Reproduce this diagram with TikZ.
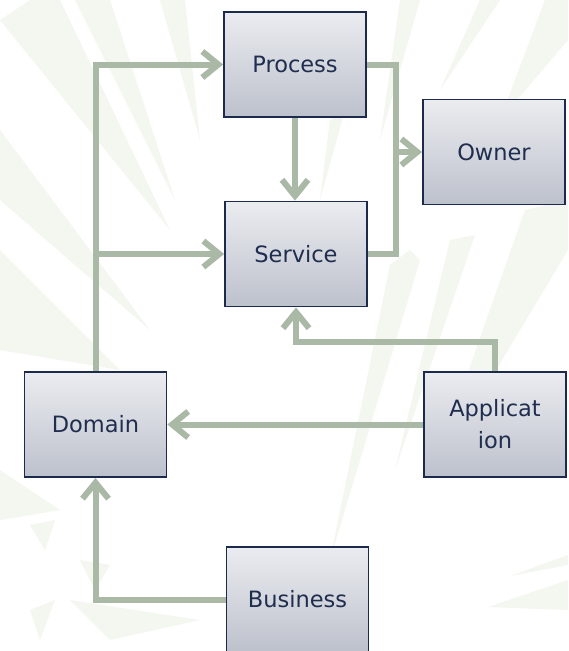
\documentclass[tikz,border=0pt]{standalone}
\usepackage{fontspec}
\setmainfont{DejaVu Sans}
\usetikzlibrary{arrows.meta,positioning}
\definecolor{boxtop}{HTML}{EBECF0}
\definecolor{boxbot}{HTML}{BDC1CC}
\definecolor{boxline}{HTML}{1C2A4D}
\definecolor{txt}{HTML}{1F2D4F}
\definecolor{conn}{HTML}{AAB8A6}
\definecolor{ray}{HTML}{F3F7F0}
\tikzset{
  entity/.style={rectangle, draw=boxline, line width=1.8pt, top color=boxtop, bottom color=boxbot,
    minimum width=142pt, minimum height=105pt, inner sep=0pt, text=txt, align=center,
    font=\fontsize{22.5}{32}\selectfont},
  link/.style={draw=conn, line width=6pt},
  arr/.style={link, -{Straight Barb[length=16pt,width=26pt,line width=6pt]}},
  raystyle/.style={fill=ray, draw=none}
}
\begin{document}
\begin{tikzpicture}[x=1pt,y=-1pt]
\useasboundingbox (0,0) rectangle (568,651);
\fill[white] (0,0) rectangle (568,651);
% faint background rays
\fill[raystyle] (0,20) -- (30,0) -- (60,0) -- (170,230) -- cycle;
\fill[raystyle] (0,130) -- (0,200) -- (150,330) -- cycle;
\fill[raystyle] (0,250) -- (0,350) -- (120,370) -- cycle;
\fill[raystyle] (75,0) -- (110,0) -- (175,200) -- cycle;
\fill[raystyle] (160,0) -- (185,0) -- (200,140) -- cycle;
\fill[raystyle] (0,470) -- (0,520) -- (60,510) -- cycle;
\fill[raystyle] (30,525) -- (55,520) -- (45,550) -- cycle;
\fill[raystyle] (80,560) -- (110,565) -- (95,590) -- cycle;
\fill[raystyle] (30,610) -- (55,600) -- (40,640) -- cycle;
\fill[raystyle] (70,600) -- (200,620) -- (110,640) -- cycle;
\fill[raystyle] (390,265) -- (410,250) -- (420,260) -- (330,560) -- cycle;
\fill[raystyle] (450,240) -- (475,235) -- (395,470) -- cycle;
\fill[raystyle] (525,210) -- (568,200) -- (568,250) -- (430,480) -- cycle;
\fill[raystyle] (568,0) -- (568,40) -- (500,120) -- (545,0) -- cycle;
\fill[raystyle] (400,0) -- (420,0) -- (380,140) -- cycle;
\fill[raystyle] (480,0) -- (500,0) -- (440,90) -- cycle;
\fill[raystyle] (568,580) -- (568,610) -- (488,607) -- cycle;
\fill[raystyle] (568,555) -- (568,565) -- (510,576) -- cycle;
\fill[raystyle] (330,120) -- (345,110) -- (320,200) -- cycle;

% nodes
\node[entity] (process) at (295,64.5) {Process};
\node[entity] (owner) at (494,152) {Owner};
\node[entity] (service) at (296,254) {Service};
\node[entity] (domain) at (95.5,424.5) {Domain};
\node[entity] (application) at (495,424.5) {Applicat\\ion};
\node[entity] (business) at (297.5,599.5) {Business};

\coordinate (bus) at (396,0);
\coordinate (appturn) at (0,342);

% connectors
\draw[arr] (domain.north) |- (process.west);
\draw[arr] (domain.north |- service.west) -- (service.west);
\draw[arr] (process.south) -- (process.south |- service.north);
\draw[link, line join=miter] (process.east) -| (bus |- service.east) -- (service.east);
\draw[arr] (bus |- owner.west) -- (owner.west);
\draw[arr] (application.north) -- (application.north |- appturn) -| (service.south);
\draw[arr] (application.west) -- (domain.east);
\draw[arr] (business.west) -| (domain.south);
\end{tikzpicture}
\end{document}
